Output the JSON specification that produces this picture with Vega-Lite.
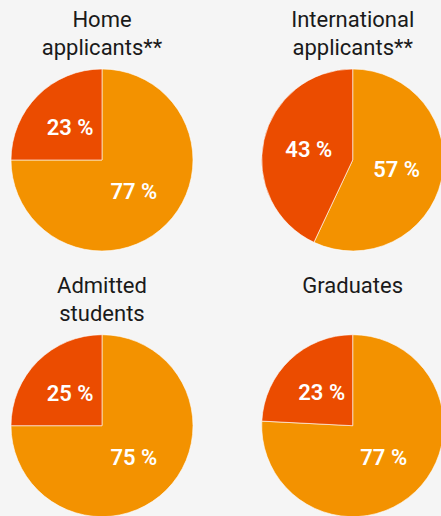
{
  "$schema": "https://vega.github.io/schema/vega-lite/v6.json",
  "width": 441,
  "height": 516,
  "padding": 0,
  "autosize": {"type": "none"},
  "background": "#f5f5f5",
  "config": {"view": {"stroke": null}},
  "datasets": {
    "slices": [
      {"panel": "home", "col": "L", "row": "T", "part": "a", "k": 1, "value": 75, "label": "77 %"},
      {"panel": "home", "col": "L", "row": "T", "part": "b", "k": 2, "value": 25, "label": "23 %"},
      {"panel": "intl", "col": "R", "row": "T", "part": "a", "k": 1, "value": 57, "label": "57 %"},
      {"panel": "intl", "col": "R", "row": "T", "part": "b", "k": 2, "value": 43, "label": "43 %"},
      {"panel": "adm", "col": "L", "row": "B", "part": "a", "k": 1, "value": 75, "label": "75 %"},
      {"panel": "adm", "col": "L", "row": "B", "part": "b", "k": 2, "value": 25, "label": "25 %"},
      {"panel": "grad", "col": "R", "row": "B", "part": "a", "k": 1, "value": 75.8, "label": "77 %"},
      {"panel": "grad", "col": "R", "row": "B", "part": "b", "k": 2, "value": 24.2, "label": "23 %"}
    ],
    "titles": [
      {"col": "L", "row": "T", "title": "Home\napplicants**"},
      {"col": "R", "row": "T", "title": "International\napplicants**"},
      {"col": "L", "row": "B", "title": "Admitted\nstudents"},
      {"col": "R", "row": "B", "title": "Graduates"}
    ]
  },
  "encoding": {
    "x": {"field": "col", "type": "nominal", "axis": null,
          "scale": {"type": "point", "domain": ["L", "R"], "padding": 0.3795, "align": 0.536}},
    "y": {"field": "row", "type": "nominal", "axis": null,
          "scale": {"type": "point", "domain": ["T", "B"], "padding": 0.471, "align": 0.6392}}
  },
  "layer": [
    {
      "data": {"name": "titles"},
      "mark": {"type": "text", "font": "Roboto", "fontSize": 22, "color": "#1a1a1a",
               "align": "center", "baseline": "alphabetic", "lineBreak": "\n", "lineHeight": 28, "dy": -132.5},
      "encoding": {"text": {"field": "title", "type": "nominal"}}
    },
    {
      "data": {"name": "slices"},
      "encoding": {
        "theta": {"field": "value", "type": "quantitative", "stack": true, "scale": {"domain": [0, 100]}},
        "order": {"field": "k", "type": "quantitative"},
        "detail": {"field": "part", "type": "nominal"}
      },
      "layer": [
        {"transform": [{"filter": "datum.panel === 'home'"}],
         "mark": {"type": "arc", "radius": 91, "stroke": "#ffffff", "strokeWidth": 0.6},
         "encoding": {"color": {"field": "part", "type": "nominal", "legend": null,
                                "scale": {"domain": ["a", "b"], "range": ["#f39200", "#eb4c00"]}}}},
        {"transform": [{"filter": "datum.panel === 'home'"}],
         "mark": {"type": "text", "radius": 45, "font": "Roboto", "fontSize": 22, "fontWeight": 600, "color": "#ffffff", "align": "center", "baseline": "middle"},
         "encoding": {"text": {"field": "label", "type": "nominal"}}},
        {"transform": [{"filter": "datum.panel === 'intl'"}],
         "mark": {"type": "arc", "radius": 91, "stroke": "#ffffff", "strokeWidth": 0.6},
         "encoding": {"color": {"field": "part", "type": "nominal", "legend": null,
                                "scale": {"domain": ["a", "b"], "range": ["#f39200", "#eb4c00"]}}}},
        {"transform": [{"filter": "datum.panel === 'intl'"}],
         "mark": {"type": "text", "radius": 45, "font": "Roboto", "fontSize": 22, "fontWeight": 600, "color": "#ffffff", "align": "center", "baseline": "middle"},
         "encoding": {"text": {"field": "label", "type": "nominal"}}},
        {"transform": [{"filter": "datum.panel === 'adm'"}],
         "mark": {"type": "arc", "radius": 91, "stroke": "#ffffff", "strokeWidth": 0.6},
         "encoding": {"color": {"field": "part", "type": "nominal", "legend": null,
                                "scale": {"domain": ["a", "b"], "range": ["#f39200", "#eb4c00"]}}}},
        {"transform": [{"filter": "datum.panel === 'adm'"}],
         "mark": {"type": "text", "radius": 45, "font": "Roboto", "fontSize": 22, "fontWeight": 600, "color": "#ffffff", "align": "center", "baseline": "middle"},
         "encoding": {"text": {"field": "label", "type": "nominal"}}},
        {"transform": [{"filter": "datum.panel === 'grad'"}],
         "mark": {"type": "arc", "radius": 91, "stroke": "#ffffff", "strokeWidth": 0.6},
         "encoding": {"color": {"field": "part", "type": "nominal", "legend": null,
                                "scale": {"domain": ["a", "b"], "range": ["#f39200", "#eb4c00"]}}}},
        {"transform": [{"filter": "datum.panel === 'grad'"}],
         "mark": {"type": "text", "radius": 45, "font": "Roboto", "fontSize": 22, "fontWeight": 600, "color": "#ffffff", "align": "center", "baseline": "middle"},
         "encoding": {"text": {"field": "label", "type": "nominal"}}}
      ]
    }
  ]
}
